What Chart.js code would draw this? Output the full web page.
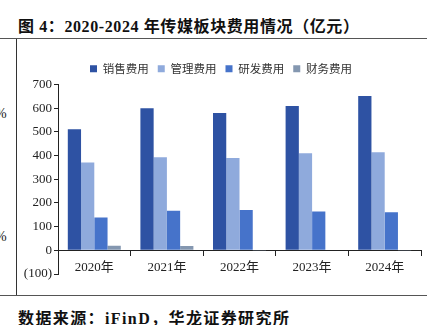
<!DOCTYPE html>
<html><head><meta charset="utf-8">
<script src="https://cdn.jsdelivr.net/npm/chart.js@4.4.1/dist/chart.umd.min.js"></script>
<style>
html,body{margin:0;padding:0;background:#fff;width:436px;height:325px;overflow:hidden;position:relative;font-family:"Liberation Serif","Noto Sans CJK SC",serif;}
#title{position:absolute;left:18px;top:13px;font-size:16px;font-weight:bold;color:#111;white-space:nowrap;letter-spacing:0.6px;}
#src{position:absolute;left:18px;top:305px;font-size:16px;font-weight:bold;color:#111;white-space:nowrap;letter-spacing:1.4px;}
.hl{position:absolute;left:0;width:427px;height:0;border-top:1.5px solid #555;}
#vl{position:absolute;left:16px;top:39px;width:0;height:256px;border-left:1px solid #333;}
.pc{position:absolute;left:-5px;font-size:14px;color:#222;}
#wrap{position:absolute;left:0;top:0;width:436px;height:325px;}
</style></head>
<body>
<div id="title">图 4：2020-2024 年传媒板块费用情况（亿元）</div>
<div class="hl" style="top:38px"></div>
<div id="vl"></div>
<div class="pc" style="top:106px">%</div>
<div class="pc" style="top:229px">%</div>
<div class="hl" style="top:295px"></div>
<div id="src">数据来源：iFinD，华龙证券研究所</div>
<div id="wrap"><canvas id="c" width="436" height="325"></canvas></div>
<script>
const categories = ["2020年","2021年","2022年","2023年","2024年"];
const seriesNames = ["销售费用","管理费用","研发费用","财务费用"];
const sales = [511, 600, 580, 609, 651];
const admin = [371, 393, 390, 410, 414];
const rnd = [138, 167, 170, 164, 161];
const fin = [19, 18, -1, -2, -1];
const yTicks = [-100, 0, 100, 200, 300, 400, 500, 600, 700];
const colors = ["#2E52A3", "#8FAADC", "#4673CA", "#8497B0"];

const serif = "'Liberation Serif','Noto Sans CJK SC',serif";
new Chart(document.getElementById('c'), {
  type: 'bar',
  data: {
    labels: categories,
    datasets: [sales, admin, rnd, fin].map((d, i) => ({
      label: seriesNames[i], data: d, backgroundColor: colors[i], borderWidth: 0,
      barPercentage: 1.0, categoryPercentage: 0.73
    }))
  },
  options: {
    responsive: false, animation: false,
    layout: { padding: { left: 21, right: 15, top: 54, bottom: 51 } },
    plugins: {
      tooltip: { enabled: false },
      legend: {
        position: 'top',
        labels: { boxWidth: 7, boxHeight: 7, padding: 9, color: '#333',
          font: { family: "'Noto Sans CJK SC',sans-serif", size: 11.5 } }
      }
    },
    scales: {
      x: {
        position: { y: 0 },
        grid: { display: true, offset: true, drawOnChartArea: false, drawTicks: true, tickLength: 5, color: '#222', lineWidth: 1 },
        border: { display: true, color: '#222', width: 1 },
        ticks: { color: '#222', padding: 4, font: { family: serif, size: 13 } }
      },
      y: {
        min: -100, max: 700,
        afterFit: s => { s.width = 37; },
        afterBuildTicks: s => { s.ticks = yTicks.map(v => ({ value: v })); },
        grid: { display: true, drawOnChartArea: false, drawTicks: true, tickLength: 4, color: '#222' },
        border: { display: true, color: '#222', width: 1 },
        ticks: { color: '#222', padding: 2, font: { family: serif, size: 13 },
          callback: v => v < 0 ? '(' + (-v) + ')' : String(v) }
      }
    }
  }
});
</script>
</body></html>
